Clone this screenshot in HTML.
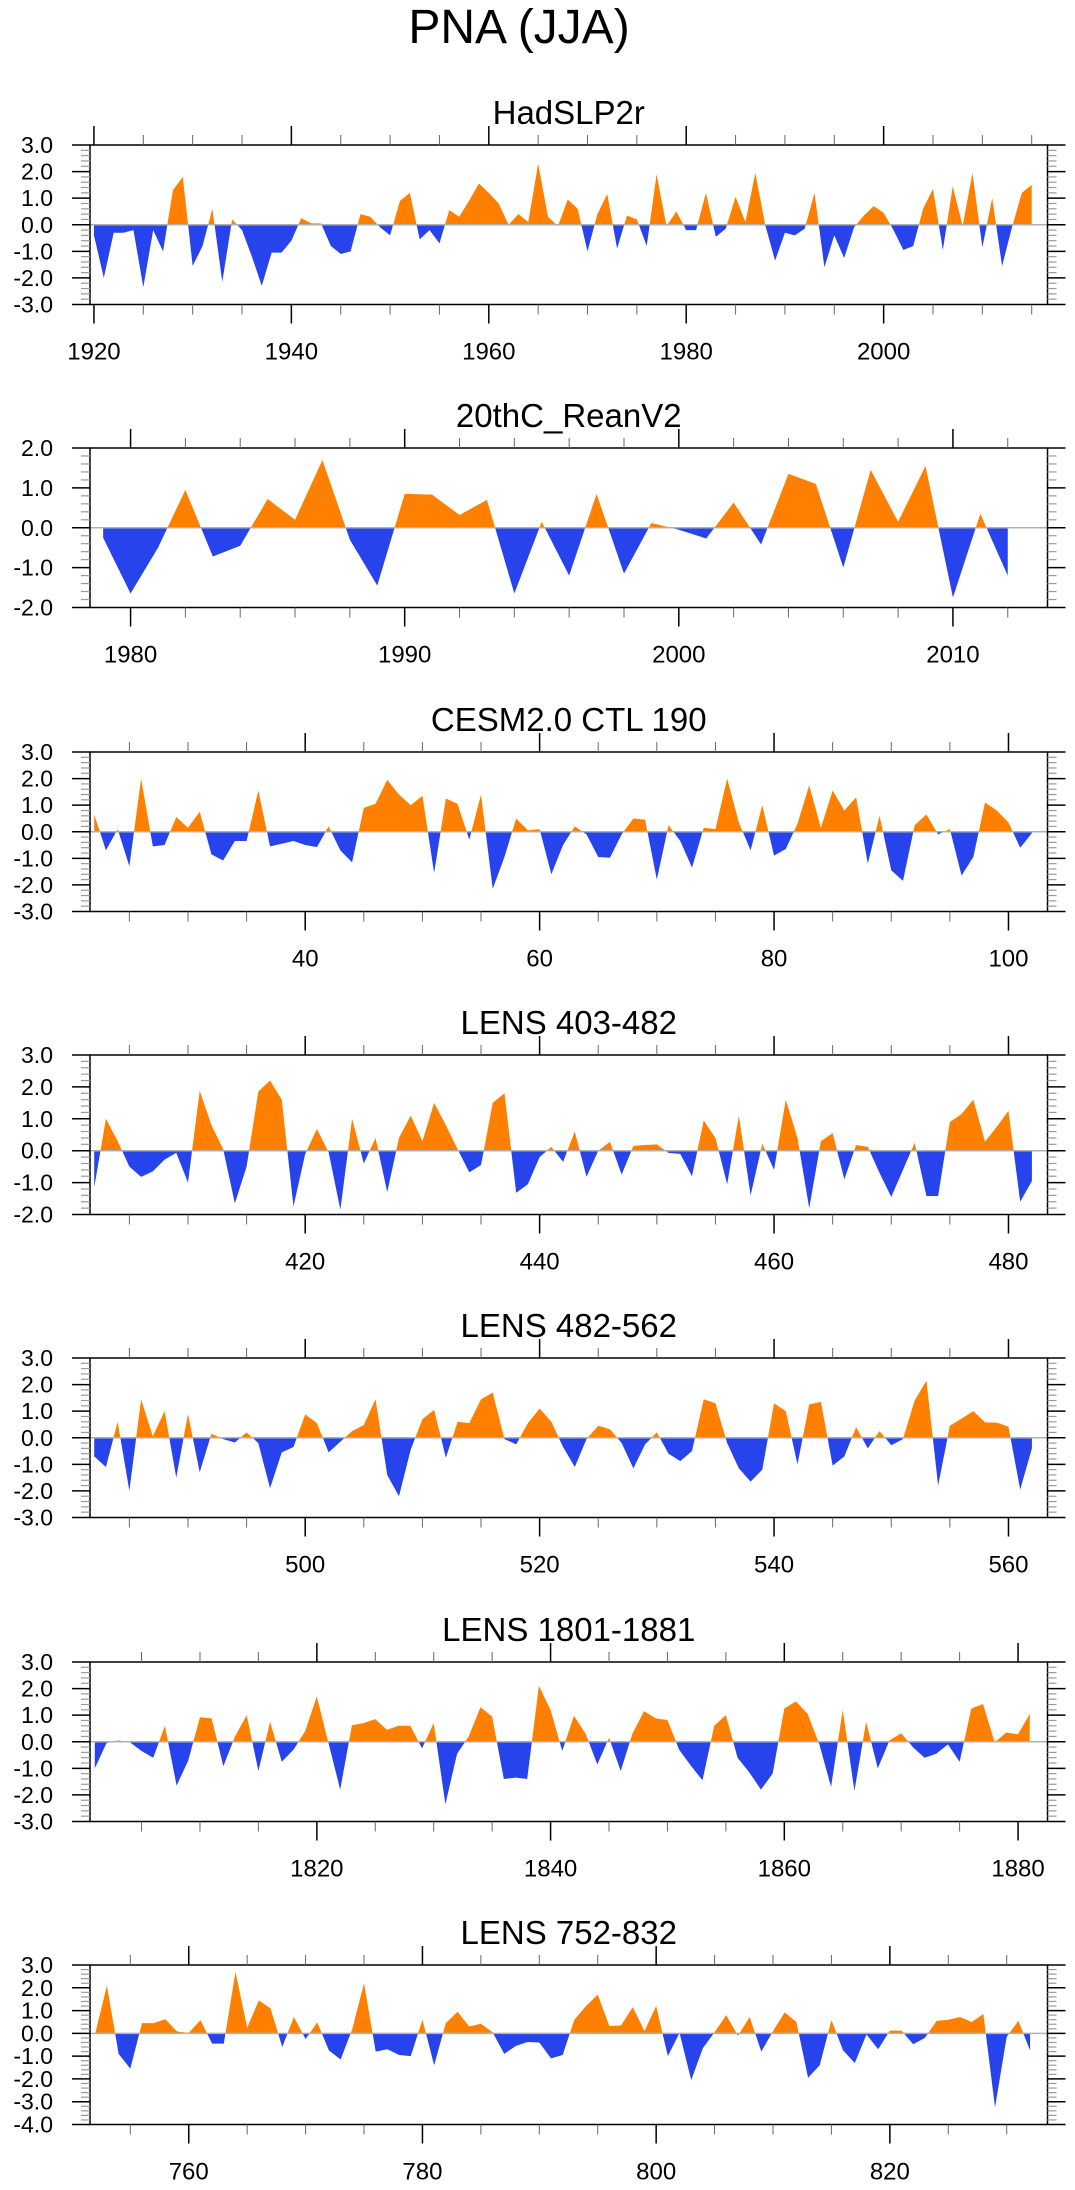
<!DOCTYPE html>
<html><head><meta charset="utf-8">
<style>
html,body{margin:0;padding:0;background:#fff;}
svg{display:block;font-family:"Liberation Sans",Arial,sans-serif;}
</style></head>
<body>
<svg id="chart" width="1075" height="2190" viewBox="0 0 1075 2190" xmlns="http://www.w3.org/2000/svg">
<text x="519" y="43" font-size="48" text-anchor="middle">PNA (JJA)</text>
</svg>
<script>
// ---- data ----
const hadStart = 1920;
const hadValues = [-0.4,-2.0,-0.3,-0.3,-0.2,-2.35,-0.2,-1.0,1.3,1.8,-1.55,-0.8,0.6,-2.15,0.2,-0.2,-1.2,-2.3,-1.05,-1.05,-0.6,0.25,0.05,0.05,-0.8,-1.1,-1.0,0.4,0.3,-0.1,-0.4,0.9,1.2,-0.55,-0.2,-0.7,0.55,0.3,0.9,1.55,1.2,0.8,0.0,0.4,0.1,2.3,0.3,-0.05,0.95,0.6,-1.0,0.4,1.15,-0.9,0.35,0.2,-0.8,1.9,-0.05,0.5,-0.2,-0.2,1.2,-0.45,-0.15,1.05,0.1,1.95,0.0,-1.35,-0.3,-0.4,-0.15,1.2,-1.6,-0.4,-1.25,-0.1,0.35,0.7,0.45,-0.2,-0.95,-0.8,0.6,1.35,-0.95,1.45,-0.05,1.95,-0.85,1.0,-1.55,-0.1,1.2,1.5];
const reanStart = 1979;
const reanValues = [-0.25,-1.65,-0.5,0.95,-0.72,-0.45,0.72,0.2,1.7,-0.3,-1.45,0.85,0.83,0.32,0.7,-1.65,0.15,-1.2,0.85,-1.15,0.12,-0.05,-0.27,0.63,-0.42,1.35,1.1,-1.0,1.45,0.15,1.55,-1.75,0.35,-1.2];
const cesmStart = 22;
const cesmValues = [0.65,-0.7,0.1,-1.3,2.0,-0.55,-0.5,0.55,0.15,0.75,-0.85,-1.08,-0.35,-0.35,1.55,-0.55,-0.45,-0.35,-0.5,-0.58,0.2,-0.7,-1.15,0.9,1.05,1.95,1.4,1.0,1.35,-1.55,1.25,1.05,-0.3,1.4,-2.15,-0.95,0.5,0.05,0.1,-1.6,-0.5,0.2,-0.1,-0.95,-0.98,-0.1,0.5,0.45,-1.8,0.25,-0.35,-1.35,0.15,0.1,2.0,0.35,-0.7,1.0,-0.9,-0.65,0.3,1.75,0.15,1.55,0.8,1.3,-1.2,0.6,-1.45,-1.85,0.25,0.65,-0.1,0.1,-1.65,-0.95,1.1,0.8,0.35,-0.6,-0.05];
const lensAStart = 402;
const lensAValues = [-1.15,1.0,0.3,-0.5,-0.82,-0.65,-0.28,-0.07,-1.0,1.88,0.8,0.05,-1.65,-0.5,1.85,2.2,1.6,-1.75,-0.1,0.68,-0.05,-1.85,1.0,-0.4,0.4,-1.3,0.4,1.1,0.3,1.5,0.8,0.05,-0.68,-0.45,1.5,1.8,-1.32,-1.05,-0.2,0.12,-0.35,0.6,-0.82,0.0,0.28,-0.75,0.15,0.18,0.2,-0.07,-0.1,-0.8,0.95,0.4,-1.05,1.1,-1.4,0.22,-0.6,1.6,0.4,-1.8,0.3,0.55,-0.9,0.18,0.12,-0.7,-1.45,-0.6,0.25,-1.42,-1.42,0.9,1.15,1.6,0.28,0.75,1.25,-1.6,-0.95];
const lensBStart = 482;
const lensBValues = [-0.7,-1.1,0.6,-2.0,1.45,0.05,1.0,-1.5,0.9,-1.3,0.15,-0.05,-0.18,0.2,-0.2,-1.9,-0.55,-0.35,0.88,0.55,-0.55,-0.15,0.25,0.48,1.45,-1.4,-2.2,-0.45,0.7,1.05,-0.75,0.6,0.55,1.45,1.7,-0.05,-0.25,0.55,1.1,0.6,-0.35,-1.1,-0.05,0.45,0.32,-0.2,-1.15,-0.25,0.2,-0.6,-0.88,-0.5,1.45,1.3,-0.2,-1.15,-1.65,-1.2,1.3,1.0,-1.0,1.25,1.35,-1.05,-0.7,0.4,-0.4,0.25,-0.28,-0.05,1.4,2.15,-1.8,0.45,0.72,1.0,0.58,0.57,0.42,-1.95,-0.4];
const lensCStart = 1801;
const lensCValues = [-1.0,-0.05,0.05,-0.02,-0.35,-0.6,0.6,-1.65,-0.7,0.92,0.88,-0.92,0.2,1.0,-1.1,0.75,-0.75,-0.3,0.4,1.7,-0.05,-1.8,0.62,0.7,0.85,0.45,0.6,0.6,-0.25,0.7,-2.35,-0.45,0.2,1.3,0.95,-1.4,-1.35,-1.4,2.1,1.2,-0.35,0.98,0.3,-0.85,0.15,-1.1,0.3,1.15,0.88,0.82,-0.3,-0.9,-1.45,0.6,1.0,-0.6,-1.15,-1.8,-1.2,1.25,1.52,1.05,-0.1,-1.7,1.2,-1.85,0.75,-1.0,0.05,0.32,-0.2,-0.6,-0.45,-0.1,-0.75,1.25,1.42,-0.02,0.35,0.28,1.05];
const lensDStart = 752;
const lensDValues = [0.0,2.1,-0.9,-1.55,0.45,0.45,0.62,0.08,0.02,0.58,-0.45,-0.45,2.7,0.25,1.45,1.1,-0.6,0.72,-0.25,0.48,-0.75,-1.15,0.2,2.2,-0.8,-0.7,-0.95,-1.0,0.6,-1.4,0.45,0.95,0.3,0.42,0.05,-0.9,-0.55,-0.38,-0.4,-1.1,-0.95,0.6,1.2,1.7,0.32,0.35,1.15,0.1,1.2,-1.0,0.02,-2.05,-0.65,0.05,0.8,-0.1,0.72,-0.8,0.1,0.92,0.5,-1.95,-1.4,0.58,-0.75,-1.3,-0.05,-0.7,0.12,0.12,-0.48,-0.2,0.55,0.6,0.72,0.5,0.85,-3.25,-0.15,0.55,-0.75];
const panelTitles = ["HadSLP2r","20thC_ReanV2","CESM2.0 CTL 190","LENS 403-482","LENS 482-562","LENS 1801-1881","LENS 752-832"];
const xLabelsP1 = [1920,1940,1960,1980,2000];
const xLabelsP2 = [1980,1990,2000,2010];
const xLabelsP3 = [40,60,80,100];
const xLabelsP4 = [420,440,460,480];
const xLabelsP5 = [500,520,540,560];
const xLabelsP6 = [1820,1840,1860,1880];
const xLabelsP7 = [760,780,800,820];

// ---- layout (not data) ----
const NS = "http://www.w3.org/2000/svg";
const svg = document.getElementById('chart');
const L = 90, R = 1047.5, H = 159.5;
const panels = [
 {top:145, xmin:1919.6, xmax:2016.6, ymin:-3, ymax:3, major:20, minor:5, start:hadStart, vals:hadValues, labels:xLabelsP1},
 {top:448, xmin:1978.52, xmax:2013.45, ymin:-2, ymax:2, major:10, minor:2, start:reanStart, vals:reanValues, labels:xLabelsP2},
 {top:752, xmin:21.64, xmax:103.33, ymin:-3, ymax:3, major:20, minor:5, start:cesmStart, vals:cesmValues, labels:xLabelsP3},
 {top:1055, xmin:401.64, xmax:483.33, ymin:-2, ymax:3, major:20, minor:5, start:lensAStart, vals:lensAValues, labels:xLabelsP4},
 {top:1358, xmin:481.64, xmax:563.33, ymin:-3, ymax:3, major:20, minor:5, start:lensBStart, vals:lensBValues, labels:xLabelsP5},
 {top:1662, xmin:1800.59, xmax:1882.52, ymin:-3, ymax:3, major:20, minor:5, start:lensCStart, vals:lensCValues, labels:xLabelsP6},
 {top:1965, xmin:751.55, xmax:833.49, ymin:-4, ymax:3, major:20, minor:5, start:lensDStart, vals:lensDValues, labels:xLabelsP7}
];
function mk(tag, attrs){const e=document.createElementNS(NS,tag);for(const k in attrs)e.setAttribute(k,attrs[k]);return e;}

panels.forEach((p,pi)=>{
  const g = mk('g',{});
  
  
  svg.appendChild(g);
  const top=p.top, bot=top+H;
  const sx = v => L + (v-p.xmin)/(p.xmax-p.xmin)*(R-L);
  const sy = v => bot - (v-p.ymin)/(p.ymax-p.ymin)*H;
  const y0 = sy(0);
  const t = mk('text',{x:(L+R)/2, y:top-21, 'font-size':33, 'text-anchor':'middle'});
  t.textContent = panelTitles[pi];
  
  
  g.appendChild(t);
  const cidA='ca'+pi, cidB='cb'+pi;
  const d1 = mk('clipPath',{id:cidA}); d1.appendChild(mk('rect',{x:L,y:top,width:R-L,height:y0-top}));
  const d2 = mk('clipPath',{id:cidB}); d2.appendChild(mk('rect',{x:L,y:y0,width:R-L,height:bot-y0}));
  g.appendChild(d1); g.appendChild(d2);
  let d = 'M'+sx(p.start).toFixed(2)+','+y0.toFixed(2);
  p.vals.forEach((v,i)=>{ d += ' L'+sx(p.start+i).toFixed(2)+','+sy(v).toFixed(2); });
  d += ' L'+sx(p.start+p.vals.length-1).toFixed(2)+','+y0.toFixed(2)+' Z';
  const pos = mk('path',{d:d, fill:'#ff8000', 'clip-path':'url(#'+cidA+')'});
  
  
  const neg = mk('path',{d:d, fill:'#2643ec', 'clip-path':'url(#'+cidB+')'});
  
  
  g.appendChild(pos); g.appendChild(neg);
  const zl = mk('line',{x1:L,x2:R,y1:y0,y2:y0,stroke:'#b0b0b0','stroke-width':1.5});
  
  
  g.appendChild(zl);
  const fr = mk('rect',{x:L,y:top,width:R-L,height:H,fill:'none',stroke:'#000','stroke-width':1.5});
  
  
  g.appendChild(fr);
  const eps=1e-6;
  for(let v=Math.ceil(p.xmin/p.minor)*p.minor; v<=p.xmax+eps; v+=p.minor){
    const x=sx(v); const isMaj=Math.abs(v/p.major-Math.round(v/p.major))<eps;
    const len=isMaj?19:10;
    g.appendChild(mk('line',{x1:x,x2:x,y1:bot,y2:bot+len,stroke:isMaj?'#000':'#666','stroke-width':isMaj?1.5:1}));
    g.appendChild(mk('line',{x1:x,x2:x,y1:top,y2:top-len,stroke:isMaj?'#000':'#666','stroke-width':isMaj?1.5:1}));
  }
  p.labels.forEach(v=>{
    const tl = mk('text',{x:sx(v), y:bot+55, 'font-size':24, 'text-anchor':'middle'});
    tl.textContent = String(v);
    
    
    g.appendChild(tl);
  });
  for(let k=Math.round(p.ymin*5); k<=Math.round(p.ymax*5); k++){
    const v=k/5, y=sy(v), isMaj=(k%5===0);
    const len=isMaj?18:9;
    g.appendChild(mk('line',{x1:L-len,x2:L,y1:y,y2:y,stroke:isMaj?'#000':'#999','stroke-width':isMaj?1.5:1.2}));
    g.appendChild(mk('line',{x1:R,x2:R+len,y1:y,y2:y,stroke:isMaj?'#000':'#999','stroke-width':isMaj?1.5:1.2}));
    if(isMaj){
      const yl = mk('text',{x:53, y:y+8, 'font-size':23, 'text-anchor':'end'});
      yl.textContent = v.toFixed(1);
      
      
      g.appendChild(yl);
    }
  }
});
</script>
</body></html>
